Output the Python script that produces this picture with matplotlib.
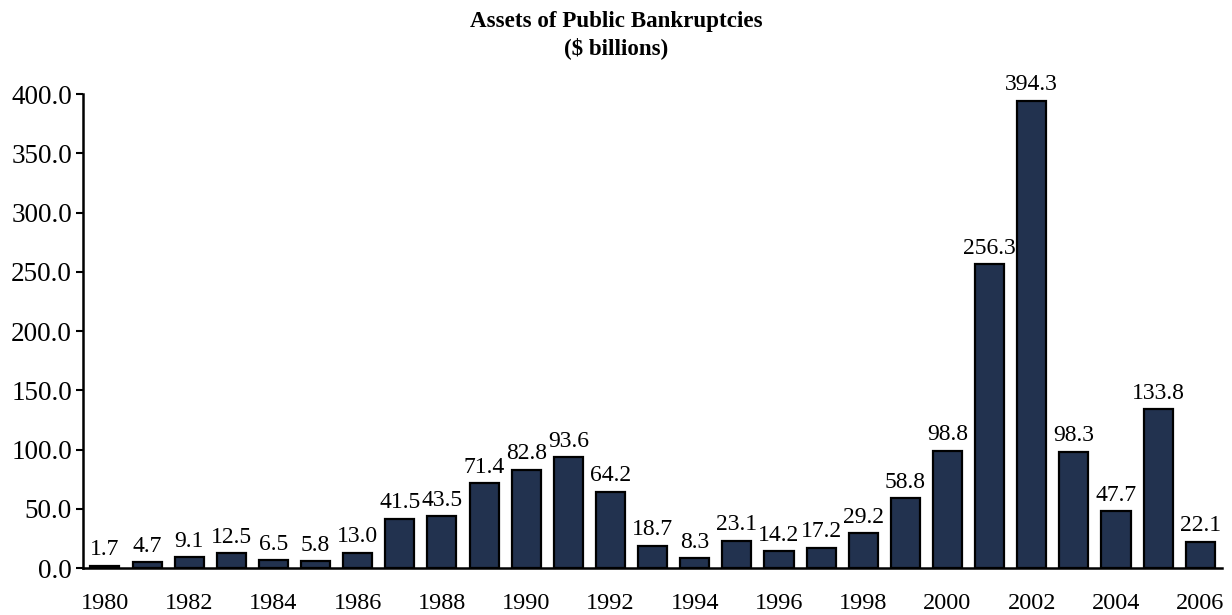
import matplotlib
matplotlib.use("Agg")
import matplotlib.pyplot as plt
from matplotlib.ticker import FuncFormatter, MultipleLocator

years = list(range(1980, 2007))
assets = [1.7, 4.7, 9.1, 12.5, 6.5, 5.8, 13.0, 41.5, 43.5, 71.4, 82.8, 93.6,
          64.2, 18.7, 8.3, 23.1, 14.2, 17.2, 29.2, 58.8, 98.8, 256.3, 394.3,
          98.3, 47.7, 133.8, 22.1]
tick_years = years[::2]

plt.rcParams["font.family"] = ["Liberation Serif", "DejaVu Serif"]

fig = plt.figure(figsize=(12.32, 6.15), dpi=100)
ax = fig.add_axes([0.0674, 0.0764, 0.9246, 0.7707])

x = list(range(len(years)))
bars = ax.bar(x, assets, width=0.69, color="#22324F", edgecolor="black",
              linewidth=1.6, zorder=2)
for xi, v in zip(x, assets):
    ax.annotate(f"{v:.1f}", (xi, v), xytext=(0, 4), textcoords="offset points",
                ha="center", va="bottom", fontsize=17)

ax.set_xlim(-0.52, len(years) - 0.48)
ax.set_ylim(0, 400)
ax.yaxis.set_major_locator(MultipleLocator(50))
ax.yaxis.set_major_formatter(FuncFormatter(lambda v, p: f"{v:.1f}"))
ax.set_xticks([years.index(y) for y in tick_years])
ax.set_xticklabels([str(y) for y in tick_years])

ax.tick_params(axis="y", labelsize=19.5, length=5, width=1.5, direction="out", pad=3)
ax.tick_params(axis="x", labelsize=17.5, length=0, pad=18)
for s in ("top", "right"):
    ax.spines[s].set_visible(False)
for s in ("left", "bottom"):
    ax.spines[s].set_linewidth(1.8)

fig.text(0.5, 0.982, "Assets of Public Bankruptcies\n($ billions)", ha="center",
         va="top", fontsize=16.6, fontweight="bold", linespacing=1.3)

fig.savefig("out.png", dpi=100)
